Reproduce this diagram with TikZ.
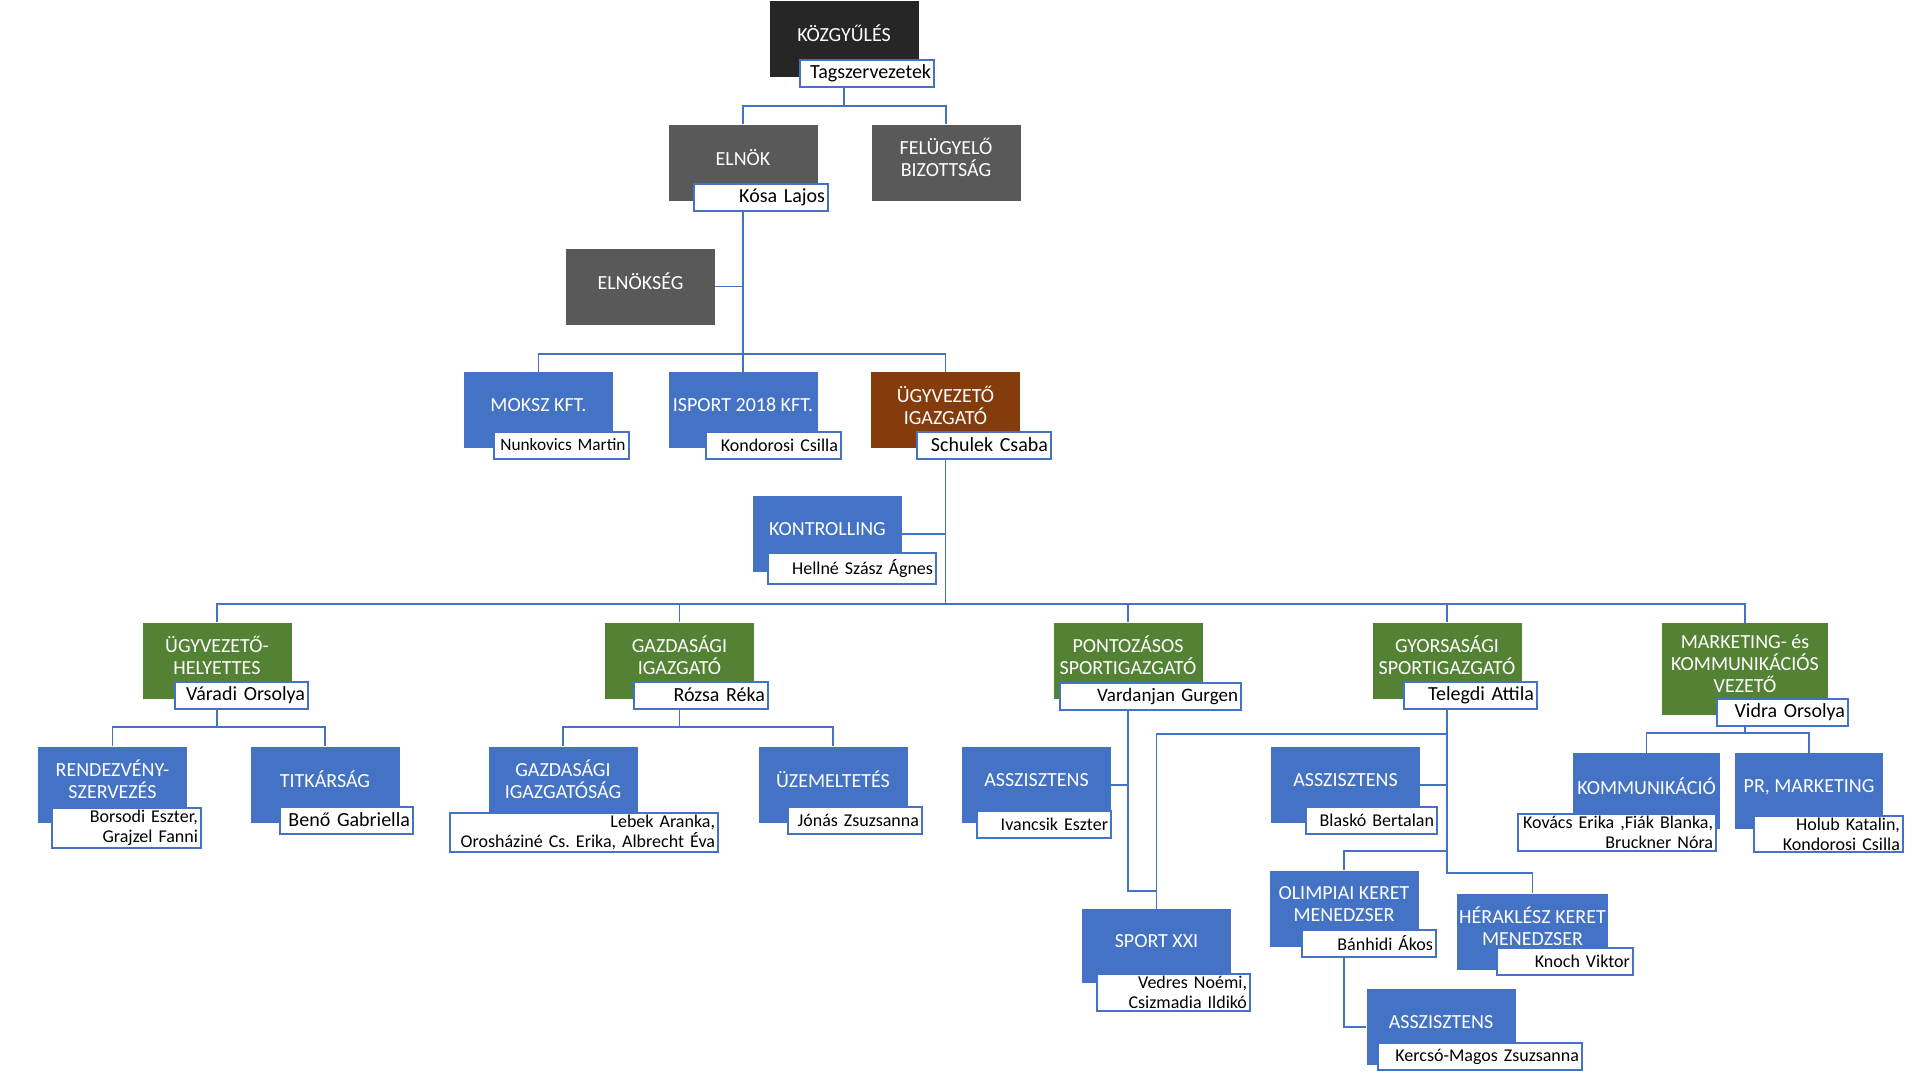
\documentclass[tikz,border=0pt]{standalone}
\usepackage{fontspec}
\setmainfont{Carlito}
\frenchspacing
\usetikzlibrary{backgrounds}

\definecolor{kgdark}{HTML}{262626}
\definecolor{kggray}{HTML}{595959}
\definecolor{kgblue}{HTML}{4472C4}
\definecolor{kggreen}{HTML}{548235}
\definecolor{kgbrown}{HTML}{843C0C}

\begin{document}
\begin{tikzpicture}[
                x=1pt, y=-1pt,
                orgbox/.style={minimum width=149pt, minimum height=76pt, inner sep=2pt, align=center,
                               text=white, font=\fontsize{20}{22}\selectfont,
                               execute at end node={\rule[-10pt]{0pt}{10pt}}},
                darkbox/.style={orgbox, fill=kgdark},
                graybox/.style={orgbox, fill=kggray},
                bluebox/.style={orgbox, fill=kgblue},
                greenbox/.style={orgbox, fill=kggreen},
                brownbox/.style={orgbox, fill=kgbrown},
                person/.style={draw=kgblue, line width=2pt, fill=white, text=black, minimum height=27pt,
                               inner xsep=3pt, inner ysep=2pt, align=right, text width=#1,
                               font=\fontsize{18}{20}\selectfont},
                largename/.style={font=\fontsize{20}{22}\selectfont},
                link/.style={draw=kgblue, line width=1.8pt}] %

\useasboundingbox (0,0) rectangle (1920,1080);

                    % 0
                    \node[darkbox] (KOZGY) at (844,38.5) {KÖZGYŰLÉS};
                    \node[person=128pt, largename] (TAGSZ) at (867,73.5) {Tagszervezetek};

                    % 1
                    \node[graybox] (ELNOK) at (743,162.5) {ELNÖK};
                    \node[person=128pt, largename] (KOSA) at (761,197.5) {Kósa Lajos};
                    \node[graybox] (FELUGY) at (946,162.5) {FELÜGYELŐ\\BIZOTTSÁG};
                    \node[graybox] (ELNOKSEG) at (640.5,286.5) {ELNÖKSÉG};

                    % 2
                    \node[bluebox] (MOKSZ) at (538.5,410) {MOKSZ KFT.};
                    \node[person=129pt, font=\fontsize{17.3}{20}\selectfont] (NUNK) at (561,445) {Nunkovics Martin};
                    \node[bluebox] (ISPORT) at (743,410) {ISPORT 2018 KFT.};
                    \node[person=129pt] (KOND) at (773.5,445) {Kondorosi Csilla};
                    \node[brownbox] (UGYIG) at (945.5,410) {ÜGYVEZETŐ\\IGAZGATÓ};
                    \node[person=128pt, largename] (SCHUL) at (984,445) {Schulek Csaba};

                    % 3
                    \node[bluebox] (KONTR) at (827.5,534) {KONTROLLING};
                    \node[person=162pt, minimum height=31pt] (HELLNE) at (852,568.5) {Hellné Szász Ágnes};
                    \coordinate (BUS) at (945.5,604);

                    % 4
                    \node[greenbox] (UGYH) at (217,660.5) {ÜGYVEZETŐ-\\HELYETTES};
                    \node[person=127pt, largename] (VARADI) at (241.5,695) {Váradi Orsolya};
                    \node[greenbox] (GAZDIG) at (679.5,660.5) {GAZDASÁGI\\IGAZGATÓ};
                    \node[person=128pt, largename] (ROZSA) at (701,695) {Rózsa Réka};
                    \node[greenbox] (PONT) at (1128,660.5) {PONTOZÁSOS\\SPORTIGAZGATÓ};
                    \node[person=175pt, font=\fontsize{19}{21}\selectfont] (VARD) at (1150.5,696.5) {Vardanjan Gurgen};
                    \node[greenbox] (GYORS) at (1447,660.5) {GYORSASÁGI\\SPORTIGAZGATÓ};
                    \node[person=127pt, largename] (TELEGDI) at (1470.5,695) {Telegdi Attila};
                    \node[greenbox, minimum width=166pt, minimum height=92pt] (MARK) at (1745,669) {MARKETING- és\\KOMMUNIKÁCIÓS\\VEZETŐ};
                    \node[person=125pt, largename] (VIDRA) at (1782.5,712) {Vidra Orsolya};

                    % 5
                    \node[bluebox] (REND) at (112.5,784.5) {RENDEZVÉNY-\\SZERVEZÉS};
                    \node[person=143pt] (BORS) at (126.5,828) {Borsodi Eszter,\\Grajzel Fanni};
                    \node[bluebox] (TITK) at (325,784.5) {TITKÁRSÁG};
                    \node[person=127pt, largename] (BENO) at (346.5,820) {Benő Gabriella};
                    \node[bluebox] (GIGSAG) at (563,784.5) {GAZDASÁGI\\IGAZGATÓSÁG};
                    \node[person=262pt] (LEBEK) at (584,832.5) {Lebek Aranka,\\Orosháziné Cs. Erika, Albrecht Éva};
                    \node[bluebox] (UZEM) at (833,784.5) {ÜZEMELTETÉS};
                    \node[person=128pt] (JONAS) at (855,820) {Jónás Zsuzsanna};
                    \node[bluebox] (ASSZ1) at (1036.5,785) {ASSZISZTENS};
                    \node[person=128pt] (IVANC) at (1044,824.5) {Ivancsik Eszter};
                    \node[bluebox] (ASSZ2) at (1345.5,785) {ASSZISZTENS};
                    \node[person=125pt] (BLASKO) at (1371.5,820) {Blaskó Bertalan};
                    \node[bluebox, minimum width=147pt] (KOMM) at (1646.5,791) {KOMMUNIKÁCIÓ};
                    \node[person=192pt] (KOVACS) at (1617,832.5) {Kovács Erika ,Fiák Blanka,\\Bruckner Nóra};
                    \node[bluebox, minimum width=148pt] (PR) at (1809,791) {PR, MARKETING};
                    \node[person=143pt] (HOLUB) at (1828.5,834) {Holub Katalin,\\Kondorosi Csilla};

                    % 6
                    \node[bluebox, minimum height=74pt] (SPORT) at (1156.5,946) {SPORT XXI};
                    \node[person=147pt] (VEDRES) at (1173.5,992.5) {Vedres Noémi,\\Csizmadia Ildikó};
                    \node[bluebox] (OLIMP) at (1344,908.5) {OLIMPIAI KERET\\MENEDZSER};
                    \node[person=128pt] (BANHIDI) at (1369,943.5) {Bánhidi Ákos};
                    \node[bluebox] (HERAK) at (1532.5,931.5) {HÉRAKLÉSZ KERET\\MENEDZSER};
                    \node[person=130pt] (KNOCH) at (1565,961) {Knoch Viktor};
                    \node[bluebox] (ASSZ3) at (1441,1027) {ASSZISZTENS};
                    \node[person=198pt] (KERCSO) at (1480,1056.5) {Kercsó-Magos Zsuzsanna};

%%%%%%%%%%%%%%%%%%%%%%%%%%%%%%%%%%%%%%%%%%%%%%%%%%%%%%%%%%%%%%%%%%%%%%%%%%%%%%%%%%%%

\begin{scope}[on background layer]
                    \fill[white] (0,0) rectangle (1920,1080);

                    % top
                    \draw[link] (KOZGY.south) -- ++(0,29) -| (ELNOK.north);
                    \draw[link] (KOZGY.south) -- ++(0,29) -| (FELUGY.north);
                    \draw[link] (ELNOK.south) -- (ISPORT.north);
                    \draw[link] (ELNOKSEG.east) -- (ELNOKSEG.east -| ELNOK.south);
                    \draw[link] (MOKSZ.north) -- ++(0,-18) -| (UGYIG.north);

                    % managers
                    \draw[link] (UGYIG.south) -- (BUS);
                    \draw[link] (KONTR.east) -- (KONTR.east -| UGYIG.south);
                    \foreach \n in {UGYH,GAZDIG,PONT,GYORS,MARK}
                        \draw[link] (BUS) -| (\n.north);

                    % departments
                    \foreach \n in {REND,TITK}
                        \draw[link] (UGYH.south) -- ++(0,28) -| (\n.north);
                    \foreach \n in {GIGSAG,UZEM}
                        \draw[link] (GAZDIG.south) -- ++(0,28) -| (\n.north);
                    \draw[link] (PONT.south) -- ++(0,192) -| (SPORT.north);
                    \draw[link] (ASSZ1.east) -- (ASSZ1.east -| PONT.south);
                    \draw[link] (GYORS.south) -- ++(0,35) -| (SPORT.north);
                    \draw[link] (ASSZ2.east) -- (ASSZ2.east -| GYORS.south);
                    \draw[link] (GYORS.south) -- ++(0,152) -| (OLIMP.north);
                    \draw[link] (GYORS.south) -- ++(0,174) -| (HERAK.north);
                    \draw[link] (OLIMP.south) |- (ASSZ3.west);
                    \foreach \n in {KOMM,PR}
                        \draw[link] (MARK.south) -- ++(0,18) -| (\n.north);
\end{scope}

\end{tikzpicture}
\end{document}
